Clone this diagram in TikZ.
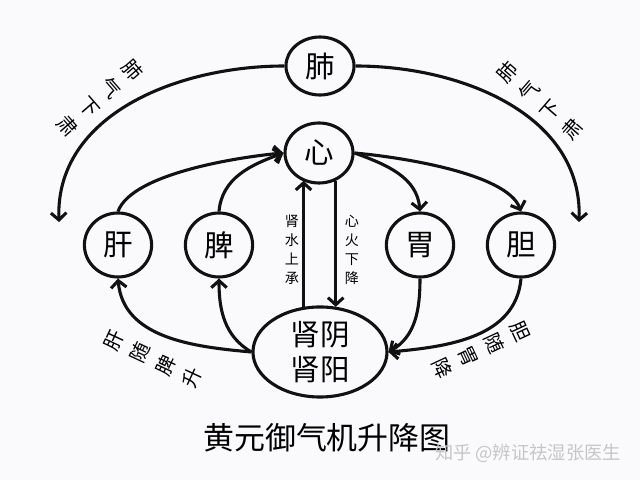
\documentclass[tikz,border=0pt]{standalone}
\usepackage{fontspec}
\setmainfont{Noto Sans CJK SC}
\usetikzlibrary{arrows.meta,shapes.geometric}
\definecolor{PaperWhite}{HTML}{FAFAFC}
\definecolor{InkBlack}{HTML}{111111}
\tikzset{
  % organ ellipse
  organ/.style={
    ellipse, draw=InkBlack, line width=2.2pt, inner sep=0pt,
    minimum width=1.68cm, minimum height=1.6cm, align=center,
    font=\fontsize{21}{25}\selectfont
  },
  % connector
  arr/.style={
    -{Straight Barb[length=5pt,width=11pt]},
    line width=2.2pt, color=InkBlack
  },
  % slanted label along a curve
  lbl/.style={align=center, inner sep=0pt, font=\fontsize{14}{20.5}\selectfont},
  % small vertical label
  vlbl/.style={align=center, inner sep=0pt, font=\fontsize{10}{13.5}\selectfont}
}
\begin{document}
\begin{tikzpicture}[x=0.025cm, y=0.025cm]

  \fill[PaperWhite] (0,0) rectangle (640,480);
  \useasboundingbox (0,0) rectangle (640,480);

  % organs
  \node[organ, minimum width=1.7cm, minimum height=1.45cm] (fei) at (320,414) {肺};
  \node[organ, minimum width=1.7cm, minimum height=1.5cm]  (xin) at (319,327) {心};
  \node[organ] (gan) at (118,235) {肝};
  \node[organ] (pi)  at (219,235) {脾};
  \node[organ] (wei) at (420,235) {胃};
  \node[organ] (dan) at (521,235) {胆};
  \node[organ, minimum width=3.35cm, minimum height=2.25cm] (shen) at (320,128) {肾阴\\肾阳};

  \coordinate (lend) at (59,258);
  \coordinate (rend) at (579,258);

  % lung qi descends
  \draw[arr] (fei.west) to[out=180,in=92] (lend);
  \draw[arr] (fei.east) to[out=0,in=88]  (rend);

  % ascending to heart
  \draw[arr] (gan.north) to[out=70,in=185,looseness=0.6] (xin.west);
  \draw[arr] (pi.north)  to[out=85,in=200] (xin.west);

  % descending from heart
  \draw[arr] (xin.east) to[out=-20,in=95] (wei.north);
  \draw[arr] (xin.east) to[out=-5,in=110,looseness=0.6] (dan.north);

  % kidney water / heart fire
  \draw[arr] (shen.110) -- (shen.110 |- xin.239);
  \draw[arr] (xin.301) -- (xin.301 |- shen.70);

  % from kidney up to liver and spleen
  \draw[arr] (shen.west) to[out=175,in=-85] (gan.south);
  \draw[arr] (shen.west) to[out=150,in=-90] (pi.south);

  % stomach and gallbladder down to kidney
  \draw[arr] (wei.south) to[out=-90,in=30] (shen.east);
  \draw[arr] (dan.south) to[out=-95,in=5]  (shen.east);

  % labels
  \node[lbl, rotate=-49] (feil) at (100,382) {肺\\气\\下\\肃};
  \node[lbl, rotate=49]  (feir) at (540,379) {肺\\气\\下\\肃};
  \node[lbl, rotate=65]  (ganl) at (153,121) {肝\\随\\脾\\升};
  \node[lbl, rotate=-65] (danl) at (481,130) {胆\\随\\胃\\降};
  \node[vlbl] (shui) at (292,230) {肾\\水\\上\\承};
  \node[vlbl] (huo)  at (352,230) {心\\火\\下\\降};

  \node[font=\fontsize{22}{26}\selectfont] (title) at (327,42) {黄元御气机升降图};
  \node[text=gray!45, font=\fontsize{13}{15}\selectfont] (mark) at (528,27) {知乎 @辨证祛湿张医生};

\end{tikzpicture}
\end{document}
